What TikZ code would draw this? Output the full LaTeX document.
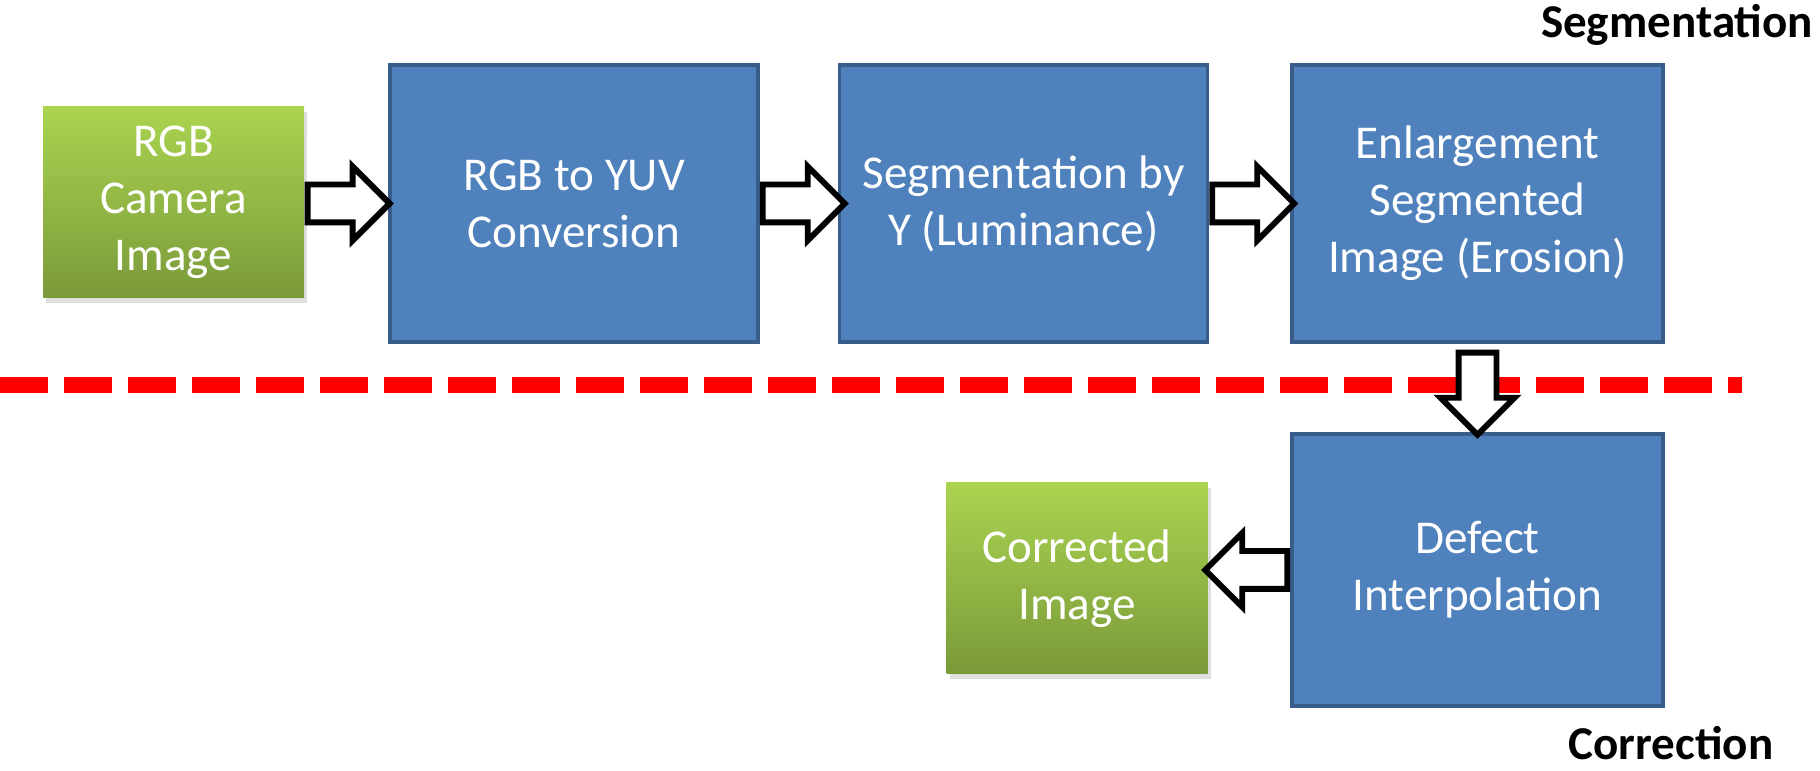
\documentclass[tikz,border=0pt]{standalone}
\usepackage{fontspec}
\setmainfont{Carlito}
\usepackage{tikz}
\usetikzlibrary{shapes.arrows, shadows, calc}
\definecolor{boxblue}{RGB}{79, 129, 189}
\definecolor{boxborder}{RGB}{56, 93, 138}
\definecolor{greentop}{RGB}{170, 212, 80}
\definecolor{greenbot}{RGB}{122, 154, 58}
\definecolor{sepred}{RGB}{255, 0, 0}

\begin{document}
\begin{tikzpicture}[
  stage/.style={draw=boxborder, line width=1pt, fill=boxblue, text=white, align=center,
    minimum width=3.68cm, minimum height=2.77cm, inner sep=0pt,
    font=\fontsize{13.4}{16.2}\selectfont},
  imgbox/.style={top color=greentop, bottom color=greenbot, text=white, align=center,
    minimum width=2.61cm, minimum height=1.91cm, inner sep=0pt,
    drop shadow={opacity=0.25, shadow xshift=0.03cm, shadow yshift=-0.05cm},
    font=\fontsize{13.4}{16.2}\selectfont},
  blockarrow/.style={single arrow, draw=black, fill=white, line width=1.7pt,
    inner xsep=0pt, inner ysep=0.16cm, single arrow head extend=0.18cm,
    single arrow head indent=0pt, minimum height=0.82cm, anchor=tail},
  sectionlabel/.style={font=\bfseries\fontsize{13.4}{16.2}\selectfont}
]
\useasboundingbox (0,0) rectangle (18.2,7.71);

% Separator
\draw[sepred, line width=0.16cm, dash pattern=on 0.48cm off 0.16cm] (0,3.86) -- (17.42,3.86);

% Segmentation stages
\node[imgbox] (rgb) at (1.735,5.685) {RGB\\Camera\\Image};
\node[stage] (yuv) at (5.74,5.675) {RGB to YUV\\Conversion};
\node[stage] (seg) at (10.235,5.675) {Segmentation by\\Y (Luminance)};
\node[stage, minimum width=3.71cm] (enl) at (14.775,5.675) {Enlargement\\Segmented\\Image (Erosion)};

% Correction stages
\node[stage, minimum width=3.71cm, minimum height=2.72cm] (defect) at (14.775,2.01) {Defect\\Interpolation};
\node[imgbox] (corr) at (10.77,1.925) {Corrected\\Image};

% Arrows
\node[blockarrow] (a1) at (rgb.east |- yuv.west) {};
\node[blockarrow] (a2) at (yuv.east) {};
\node[blockarrow] (a3) at (seg.east) {};
\node[blockarrow, rotate=-90] (a4) at ($(enl.south)+(0,-0.06)$) {};
\node[blockarrow, rotate=180] (a5) at (defect.west) {};

% Labels
\node[sectionlabel] (seglabel) at (16.77,7.46) {Segmentation};
\node[sectionlabel] (corrlabel) at (16.71,0.28) {Correction};
\end{tikzpicture}
\end{document}
